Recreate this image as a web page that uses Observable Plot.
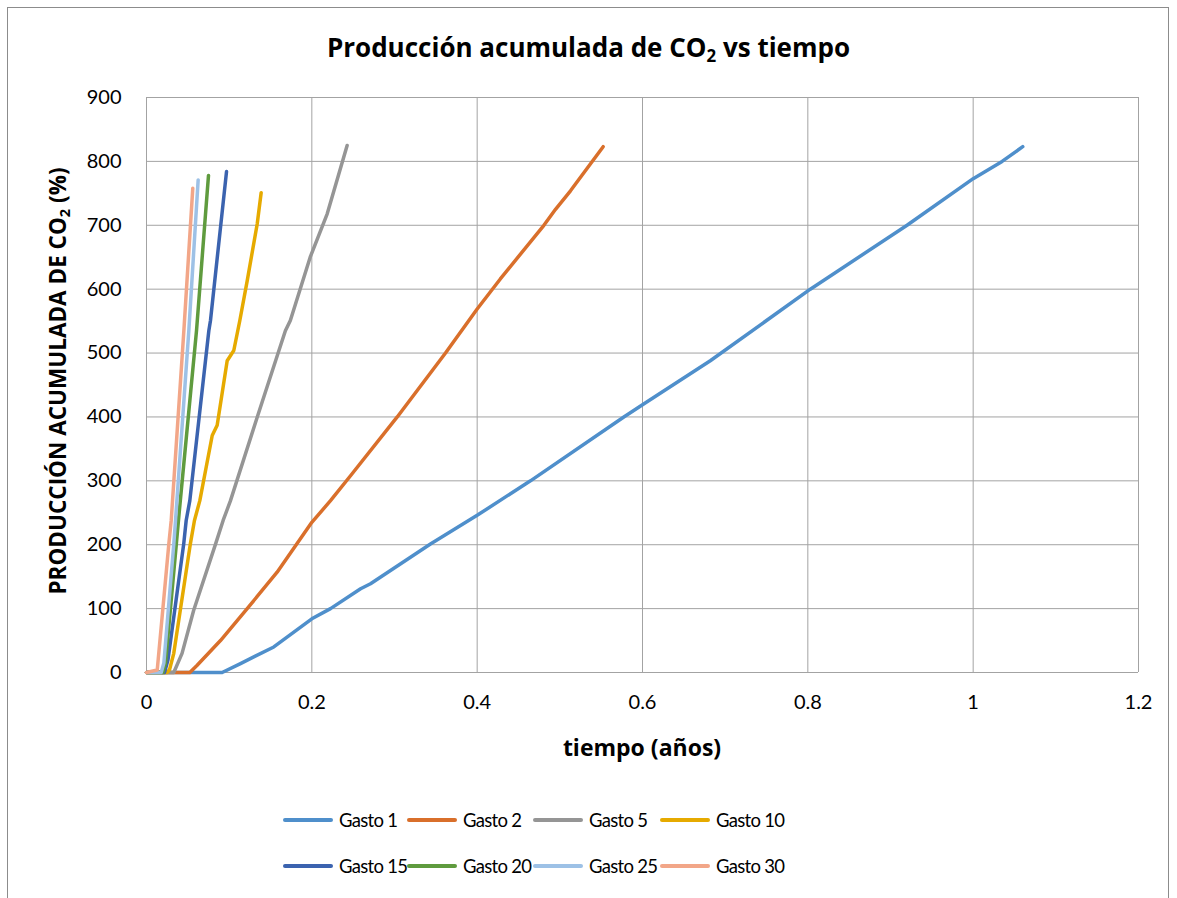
<!DOCTYPE html>
<html>
<head>
<meta charset="utf-8">
<script src="https://cdn.jsdelivr.net/npm/d3@7"></script>
<script src="https://cdn.jsdelivr.net/npm/@observablehq/plot@0.6"></script>
<style>
  html, body { margin: 0; padding: 0; background: #fff; }
  body { width: 1177px; height: 898px; position: relative; overflow: hidden; font-family: Lato, "Open Sans", sans-serif; color: #000; }
  #frame { position: absolute; left: 7px; top: 7px; width: 1162px; height: 900px; border: 1px solid #8c8c8c; box-sizing: border-box; }
  #title { position: absolute; left: 0; width: 1177px; top: 31px; text-align: center; font-family: "Open Sans", sans-serif; font-weight: bold; font-size: 26px; line-height: 32px; }
  #chart { position: absolute; left: 0; top: 80px; }
  .rot { position: absolute; left: 58px; top: 381px; width: 0; height: 0; }
  #ylabel { position: absolute; left: 0; top: 0; transform: translate(-50%, -50%) rotate(-90deg); white-space: nowrap; font-family: "Open Sans", sans-serif; font-weight: bold; font-size: 22.5px; line-height: 28px; }
  #xlabel { position: absolute; left: 642px; top: 747px; transform: translate(-50%, -50%); white-space: nowrap; font-family: "Open Sans", sans-serif; font-weight: bold; font-size: 23px; line-height: 28px; }
  sub { font-size: 0.65em; vertical-align: -0.3em; line-height: 0; }
  .leg { position: absolute; display: flex; align-items: center; font-size: 18.5px; letter-spacing: -0.7px; white-space: nowrap; transform: translateY(-50%); }
  .sw { width: 50px; height: 4px; border-radius: 2px; margin-right: 6px; }
</style>
</head>
<body>
<div id="frame"></div>
<div id="title">Producción acumulada de CO<sub>2</sub> vs tiempo</div>
<div id="chart"></div>
<div class="rot"><div id="ylabel">PRODUCCIÓN ACUMULADA DE CO<sub>2</sub> (%)</div></div>
<div id="xlabel">tiempo (años)</div>
<div id="legend"></div>
<script>
// Series names and colours
const seriesNames = ["Gasto 1", "Gasto 2", "Gasto 5", "Gasto 10", "Gasto 15", "Gasto 20", "Gasto 25", "Gasto 30"];
const seriesColors = ["#4F8FCB", "#D96F2B", "#959595", "#E6AA00", "#3B63AF", "#5F9B3E", "#9DC1E6", "#F2A688"];

// [tiempo (años), producción acumulada (%)]
const gasto1 = [[0,0],[0.0915,0],[0.1137,14],[0.154,40],[0.2,84],[0.2226,100],[0.259,131],[0.271,139],[0.3435,201],[0.4,246],[0.4524,290],[0.4645,300],[0.5774,400],[0.6,419],[0.682,488],[0.803,600],[0.92,700],[1.0,773],[1.035,800],[1.06,823]];
const gasto2 = [[0,0],[0.0524,0],[0.061,11],[0.0895,50],[0.1218,100],[0.158,157],[0.2,235],[0.2226,269],[0.2468,308],[0.3033,400],[0.3617,500],[0.4,569],[0.428,616],[0.4807,700],[0.4948,725],[0.5129,754],[0.5524,823]];
const gasto5 = [[0,0],[0.033,0],[0.043,30],[0.057,97],[0.0835,201],[0.0927,238],[0.1016,269],[0.134,400],[0.168,535],[0.174,551],[0.198,650],[0.2186,718],[0.2427,825]];
const gasto10 = [[0,0],[0.025,0],[0.028,5],[0.033,30],[0.053,201],[0.058,238],[0.0645,269],[0.0795,371],[0.0855,387],[0.0976,488],[0.1056,504],[0.1129,551],[0.1218,613],[0.1339,702],[0.1387,751]];
const gasto15 = [[0,0],[0.0218,0],[0.026,20],[0.045,201],[0.048,238],[0.0524,269],[0.0754,535],[0.0774,551],[0.0968,784]];
const gasto20 = [[0,0],[0.0198,0],[0.023,15],[0.036,200],[0.0395,250],[0.0605,535],[0.075,778]];
const gasto25 = [[0,0],[0.0178,0],[0.021,15],[0.033,201],[0.0351,238],[0.0512,535],[0.0625,771]];
const gasto30 = [[0,0],[0.013,4],[0.027,201],[0.0299,238],[0.0452,535],[0.056,758]];

const xTicks = [0, 0.2, 0.4, 0.6, 0.8, 1, 1.2];
const xTickLabels = ["0", "0.2", "0.4", "0.6", "0.8", "1", "1.2"];
const yTicks = [0, 100, 200, 300, 400, 500, 600, 700, 800, 900];

const allSeries = [gasto1, gasto2, gasto5, gasto10, gasto15, gasto20, gasto25, gasto30];
const rows = [];
allSeries.forEach((s, i) => s.forEach(([t, v]) => rows.push({series: seriesNames[i], t, v})));

const gridColor = "#a3a3a3";
const chart = Plot.plot({
  width: 1177,
  height: 700,
  marginTop: 17,
  marginLeft: 146,
  marginRight: 39,
  marginBottom: 108,
  style: {fontFamily: "Lato, 'Open Sans', sans-serif", fontSize: "20px", color: "#000", background: "transparent", overflow: "visible"},
  x: {domain: [0, 1.2]},
  y: {domain: [0, 900]},
  color: {domain: seriesNames, range: seriesColors},
  marks: [
    Plot.gridX(xTicks, {stroke: gridColor, strokeOpacity: 1, strokeWidth: 1}),
    Plot.gridY(yTicks, {stroke: gridColor, strokeOpacity: 1, strokeWidth: 1}),
    Plot.axisX(xTicks, {tickSize: 0, tickPadding: 22, label: null, tickFormat: (d) => xTickLabels[xTicks.indexOf(d)]}),
    Plot.axisY(yTicks, {tickSize: 0, tickPadding: 25, label: null}),
    Plot.line(rows, {x: "t", y: "v", z: "series", stroke: "series", strokeWidth: 3.5, strokeLinejoin: "round", strokeLinecap: "round"})
  ]
});
document.getElementById("chart").appendChild(chart);

// Legend
const legend = document.getElementById("legend");
const colX = [283, 407, 533, 660];
const rowY = [820, 866];
seriesNames.forEach((name, i) => {
  const item = document.createElement("div");
  item.className = "leg";
  item.style.left = colX[i % 4] + "px";
  item.style.top = rowY[Math.floor(i / 4)] + "px";
  const sw = document.createElement("div");
  sw.className = "sw";
  sw.style.background = seriesColors[i];
  item.appendChild(sw);
  item.appendChild(document.createTextNode(name));
  legend.appendChild(item);
});
</script>
</body>
</html>
